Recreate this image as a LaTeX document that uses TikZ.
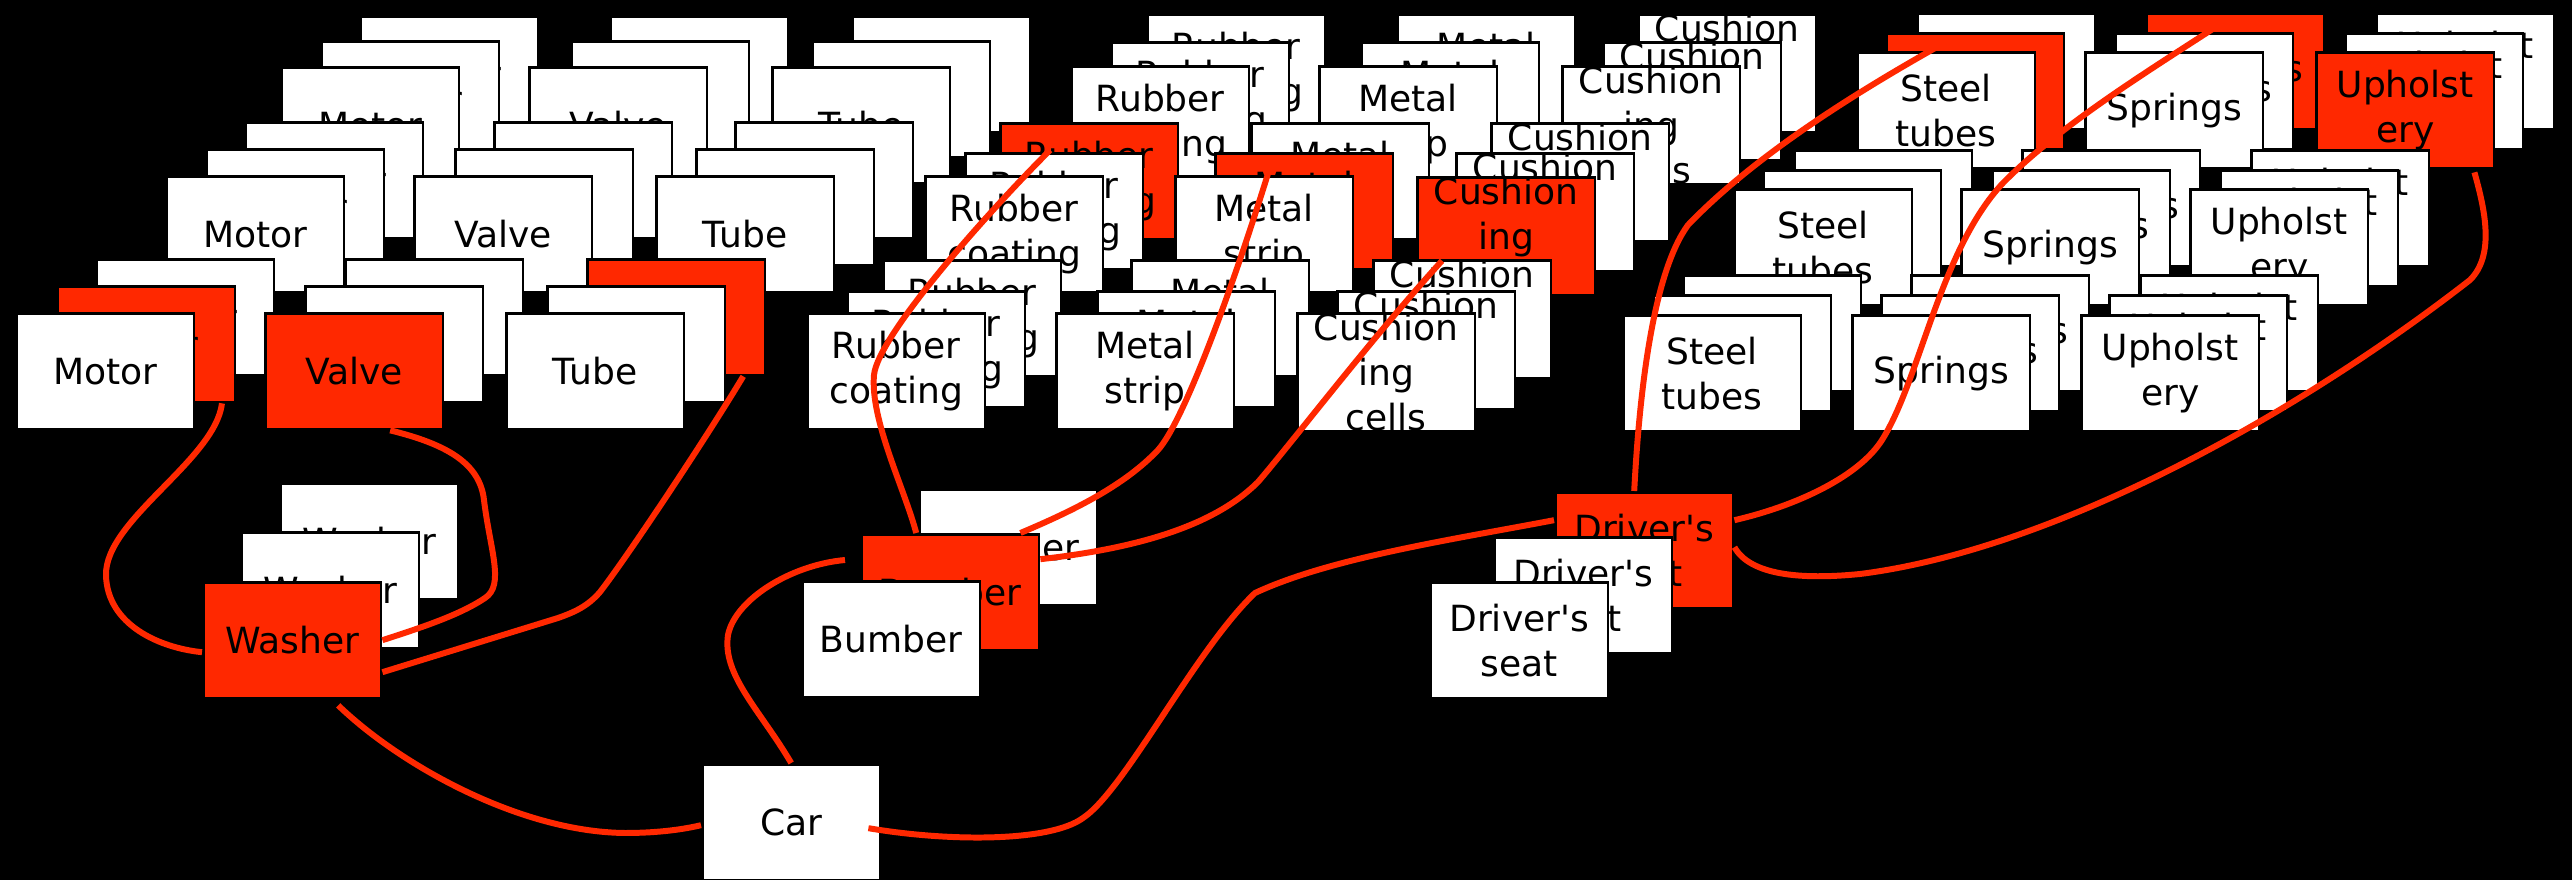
\documentclass[tikz,border=0pt]{standalone}
\usepackage{fontspec}
\setmainfont{DejaVu Sans}
\usepackage{tikz}
\usetikzlibrary{positioning,calc}
\definecolor{partred}{RGB}{255,40,0}

\begin{document}
\begin{tikzpicture}[x=0.01cm, y=-0.01cm,
    part/.style={draw=black, line width=0.8pt, fill=white, anchor=north west, inner sep=0pt,
        minimum width=1.775cm, minimum height=1.155cm, align=center,
        font=\fontsize{10.25}{12.8}\selectfont},
    hot/.style={part, fill=partred},
    link/.style={draw=partred, line width=1.7pt}]

    \useasboundingbox (0,0) rectangle (2572,880);
    \fill[black] (0,0) rectangle (2572,880);

    \node[part] (motor3b) at (359,15) {Motor};
    \node[part] (motor3m) at (320,40) {Motor};
    \node[part] (motor3f) at (280,66) {Motor};
    \node[part] (valve3b) at (609,15) {Valve};
    \node[part] (valve3m) at (570,40) {Valve};
    \node[part] (valve3f) at (528,66) {Valve};
    \node[part] (tube3b) at (851,15) {Tube};
    \node[part] (tube3m) at (811,40) {Tube};
    \node[part] (tube3f) at (771,66) {Tube};

    \node[part] (motor2b) at (244,121) {Motor};
    \node[part] (motor2m) at (205,148) {Motor};
    \node[part] (motor2f) at (165,175) {Motor};
    \node[part] (valve2b) at (493,121) {Valve};
    \node[part] (valve2m) at (454,148) {Valve};
    \node[part] (valve2f) at (413,175) {Valve};
    \node[part] (tube2b) at (734,121) {Tube};
    \node[part] (tube2m) at (695,148) {Tube};
    \node[part] (tube2f) at (655,175) {Tube};

    \node[part] (motor1b) at (95,258) {Motor};
    \node[hot] (motor1m) at (56,285) {Motor};
    \node[part] (motor1f) at (15,312) {Motor};
    \node[part] (valve1b) at (344,258) {Valve};
    \node[part] (valve1m) at (304,285) {Valve};
    \node[hot] (valve1f) at (264,312) {Valve};
    \node[hot] (tube1b) at (586,258) {Tube};
    \node[part] (tube1m) at (546,285) {Tube};
    \node[part] (tube1f) at (505,312) {Tube};

    \node[part] (rubber3b) at (1146,13) {Rubber\\coating};
    \node[part] (rubber3m) at (1110,41) {Rubber\\coating};
    \node[part] (rubber3f) at (1070,65) {Rubber\\coating};
    \node[part] (metal3b) at (1396,13) {Metal\\strip};
    \node[part] (metal3m) at (1360,41) {Metal\\strip};
    \node[part] (metal3f) at (1318,65) {Metal\\strip};
    \node[part] (cushion3b) at (1637,13) {Cushion\\ing\\cells};
    \node[part] (cushion3m) at (1602,41) {Cushion\\ing\\cells};
    \node[part] (cushion3f) at (1561,65) {Cushion\\ing\\cells};

    \node[hot] (rubber2b) at (999,122) {Rubber\\coating};
    \node[part] (rubber2m) at (964,152) {Rubber\\coating};
    \node[part] (rubber2f) at (924,175) {Rubber\\coating};
    \node[part] (metal2b) at (1250,122) {Metal\\strip};
    \node[hot] (metal2m) at (1214,152) {Metal\\strip};
    \node[part] (metal2f) at (1174,175) {Metal\\strip};
    \node[part] (cushion2b) at (1490,122) {Cushion\\ing\\cells};
    \node[part] (cushion2m) at (1455,152) {Cushion\\ing\\cells};
    \node[hot] (cushion2f) at (1416,176) {Cushion\\ing\\cells};

    \node[part] (rubber1b) at (882,259) {Rubber\\coating};
    \node[part] (rubber1m) at (846,290) {Rubber\\coating};
    \node[part] (rubber1f) at (806,312) {Rubber\\coating};
    \node[part] (metal1b) at (1130,259) {Metal\\strip};
    \node[part] (metal1m) at (1096,290) {Metal\\strip};
    \node[part] (metal1f) at (1055,312) {Metal\\strip};
    \node[part] (cushion1b) at (1372,259) {Cushion\\ing\\cells};
    \node[part] (cushion1m) at (1336,290) {Cushion\\ing\\cells};
    \node[part] (cushion1f) at (1296,312) {Cushion\\ing\\cells};

    \node[part] (steel3b) at (1916,12) {Steel\\tubes};
    \node[hot] (steel3m) at (1885,32) {Steel\\tubes};
    \node[part] (steel3f) at (1856,51) {Steel\\tubes};
    \node[hot] (springs3b) at (2145,12) {Springs};
    \node[part] (springs3m) at (2114,32) {Springs};
    \node[part] (springs3f) at (2084,51) {Springs};
    \node[part] (upholstery3b) at (2375,12) {Upholst\\ery};
    \node[part] (upholstery3m) at (2344,32) {Upholst\\ery};
    \node[hot] (upholstery3f) at (2315,51) {Upholst\\ery};

    \node[part] (steel2b) at (1793,149) {Steel\\tubes};
    \node[part] (steel2m) at (1762,169) {Steel\\tubes};
    \node[part] (steel2f) at (1733,188) {Steel\\tubes};
    \node[part] (springs2b) at (2021,149) {Springs};
    \node[part] (springs2m) at (1991,169) {Springs};
    \node[part] (springs2f) at (1960,188) {Springs};
    \node[part] (upholstery2b) at (2250,149) {Upholst\\ery};
    \node[part] (upholstery2m) at (2219,169) {Upholst\\ery};
    \node[part] (upholstery2f) at (2189,188) {Upholst\\ery};

    \node[part] (steel1b) at (1682,274) {Steel\\tubes};
    \node[part] (steel1m) at (1652,294) {Steel\\tubes};
    \node[part] (steel1f) at (1622,314) {Steel\\tubes};
    \node[part] (springs1b) at (1910,274) {Springs};
    \node[part] (springs1m) at (1880,294) {Springs};
    \node[part] (springs1f) at (1851,314) {Springs};
    \node[part] (upholstery1b) at (2139,274) {Upholst\\ery};
    \node[part] (upholstery1m) at (2108,294) {Upholst\\ery};
    \node[part] (upholstery1f) at (2080,314) {Upholst\\ery};

    \node[part] (washerb) at (279,482) {Washer};
    \node[part] (washerm) at (240,531) {Washer};
    \node[hot] (washerf) at (202,581) {Washer};
    \node[part] (bumberb) at (918,488) {Bumber};
    \node[hot] (bumberm) at (860,533) {Bumber};
    \node[part] (bumberf) at (801,580) {Bumber};
    \node[hot] (driverb) at (1554,491) {Driver\textquotesingle s\\seat};
    \node[part] (driverm) at (1493,536) {Driver\textquotesingle s\\seat};
    \node[part] (driverf) at (1429,581) {Driver\textquotesingle s\\seat};

    \node[part] (car) at (701,763) {Car};

    \draw[link] ($(motor1m.south west)+(166,0)$) .. controls (215,460) and (105,520) .. (106,575)
        .. controls (107,625) and (160,648) .. ($(washerf.west)+(0,12)$);
    \draw[link] ($(valve1f.south)+(36,0)$) .. controls (450,445) and (480,465) .. (484,500)
        .. controls (490,550) and (505,585) .. (485,598) .. controls (460,615) and (420,628) .. (washerf.east);
    \draw[link] ($(tube1b.south)+(67,0)$) .. controls (705,440) and (625,560) .. (600,592)
        .. controls (588,606) and (575,612) .. (558,618) -- ($(washerf.east)+(0,32)$);
    \draw[link] ($(washerf.south)+(46,6)$) .. controls (400,765) and (520,832) .. (625,833)
        .. controls (660,833) and (685,829) .. ($(car.west)+(0,3)$);

    \draw[link] (car.north) .. controls (760,710) and (722,675) .. (728,635)
        .. controls (735,600) and (790,565) .. ($(bumberm.north west)+(-15,27)$);
    \draw[link] ($(bumberm.north)+(-34,0)$) .. controls (905,490) and (870,420) .. (874,375)
        .. controls (878,335) and (990,210) .. ($(rubber2b.north)+(-39,28)$);
    \draw[link] ($(metal2m.north)+(-36,21)$) .. controls (1235,280) and (1185,420) .. (1158,450)
        .. controls (1125,485) and (1075,510) .. ($(bumberm.north east)+(-20,0)$);
    \draw[link] ($(cushion2f.south west)+(26,-36)$) .. controls (1370,340) and (1290,445) .. (1258,482)
        .. controls (1215,525) and (1140,548) .. ($(bumberm.east)+(0,-33)$);

    \draw[link] ($(car.east)+(-13,6)$) .. controls (950,842) and (1050,842) .. (1083,818)
        .. controls (1125,790) and (1195,650) .. (1255,593)
        .. controls (1330,558) and (1450,540) .. ($(driverb.west)+(0,-30)$);
    \draw[link] ($(driverb.north)+(-10,0)$) .. controls (1640,380) and (1655,270) .. (1688,225)
        .. controls (1760,150) and (1870,85) .. ($(steel3m.north)+(-40,16)$);
    \draw[link] ($(driverb.east)+(0,-30)$) .. controls (1800,505) and (1860,475) .. (1882,440)
        .. controls (1920,380) and (1940,250) .. (2003,183)
        .. controls (2060,125) and (2150,70) .. ($(springs3b.north)+(-21,16)$);
    \draw[link] ($(driverb.east)+(0,-3)$) .. controls (1750,575) and (1800,580) .. (1860,574)
        .. controls (2050,550) and (2290,420) .. (2470,280)
        .. controls (2495,255) and (2485,210) .. ($(upholstery3f.south east)+(-21,3)$);
\end{tikzpicture}
\end{document}
